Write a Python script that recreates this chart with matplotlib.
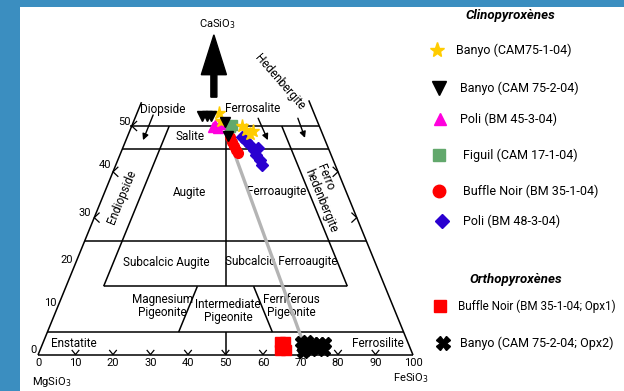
import matplotlib
matplotlib.use("Agg")
import matplotlib.pyplot as plt
from matplotlib.patches import Rectangle
import numpy as np

plt.rcParams['font.family'] = ['Roboto', 'DejaVu Sans']

# Clinopyroxene analyses: Wo and Fs in mol % (En = 100 - Wo - Fs)
banyo1_wo = [52.8, 51.1, 50.0, 49.1, 48.3, 48.9]
banyo1_fs = [21.9, 23.3, 29.4, 30.9, 32.4, 32.9]
banyo2_wo = [52.2, 52.2, 52.2, 50.9, 47.8]
banyo2_fs = [17.6, 19.0, 20.0, 24.4, 26.8]
poli45_wo = [50.2, 49.6, 50.4, 49.8]
poli45_fs = [22.1, 23.2, 23.3, 21.8]
figuil_wo = [49.8, 50.2]
figuil_fs = [26.3, 26.6]
buffle_wo = [47.6, 46.5, 45.6, 44.8, 44.1]
buffle_fs = [27.4, 28.5, 29.5, 30.4, 31.3]
poli48_wo = [47.6, 46.7, 45.9, 44.8, 43.7, 42.6, 41.5, 45.2]
poli48_fs = [30.6, 32.1, 33.6, 35.2, 36.3, 37.9, 39.0, 36.1]

# Orthopyroxene analyses
buffle_opx_wo = [2.8, 2.8, 1.1, 1.1, 2.0]
buffle_opx_fs = [63.1, 64.5, 64.0, 65.6, 64.3]
banyo_opx_wo = [2.8, 3.1, 2.6, 2.6, 2.6, 1.5, 1.1, 1.3, 1.1, 0.7]
banyo_opx_fs = [68.7, 70.2, 72.0, 73.6, 75.2, 70.2, 72.3, 74.0, 75.7, 70.3]

# Cpx-Opx tie line (Banyo CAM 75-2-04)
tie_wo = [47.8, 3.3]
tie_fs = [26.8, 68.8]

base_ticks = [0, 10, 20, 30, 40, 50, 60, 70, 80, 90, 100]
side_ticks = [0, 10, 20, 30, 40, 50]


def proj(wo, fs):
    """Ternary Wo-En-Fs to quadrilateral x/y (x = Fs + Wo/2, y = Wo)."""
    wo = np.asarray(wo, float)
    fs = np.asarray(fs, float)
    return fs + wo / 2.0, wo


fig = plt.figure(figsize=(6.24, 3.91), dpi=100)
fig.patch.set_facecolor('white')

# background axes in pixel units for frame and legend
lax = fig.add_axes([0, 0, 1, 1], zorder=0)
lax.set_xlim(0, 624)
lax.set_ylim(391, 0)
lax.axis('off')
slide_blue = '#3b8ec0'
lax.add_patch(Rectangle((0, 0), 20, 391, color=slide_blue, lw=0))
lax.add_patch(Rectangle((0, 0), 624, 7, color=slide_blue, lw=0))

ax = fig.add_axes([38 / 624, 36 / 391, 375 / 624, 229 / 391], zorder=1)
ax.set_xlim(0, 100)
ax.set_ylim(0, 50)
ax.axis('off')

LW = 1.1
K = 'black'


def seg(wo1, fs1, wo2, fs2, **kw):
    x, y = proj([wo1, wo2], [fs1, fs2])
    ax.plot(x, y, color=K, lw=kw.pop('lw', LW), clip_on=False,
            solid_capstyle='butt', **kw)


def iso_wo(wo, fs_lo, fs_hi):
    seg(wo, fs_lo, wo, fs_hi)


# outer quadrilateral, with the sides extended above Wo 50
seg(0, 0, 0, 100)
seg(0, 0, 55.2, 0)
seg(0, 100, 55.6, 100 - 55.6)
iso_wo(50, -0.6, 50)
iso_wo(45, 0, 55)
iso_wo(25, 0, 75)
iso_wo(15, 10, 75)
iso_wo(5, 0, 95)

# Fs = 10 and En = 10 boundaries
seg(50, 10, 15, 10)
seg(50, 40, 15, 75)
# Mg/Fe = 1 divide
seg(50, 25, 15, 42.5)
seg(5, 47.5, 0, 50)
# pigeonite subdivisions
seg(15, 35, 5, 35)
seg(15, 50, 5, 60)

# base ticks
for t in base_ticks[1:-1]:
    ax.plot([t - 0.9, t, t + 0.9], [1.0, 0.1, 1.0], color=K, lw=0.9, clip_on=False)
# side ticks
for w in [30, 40, 50]:
    x0 = w / 2.0
    ax.plot([x0 + 1.3, x0, x0 + 1.3], [w + 1.0, w, w - 1.0], color=K, lw=0.9, clip_on=False)
for w in [30, 40]:
    x0 = 100 - w / 2.0
    ax.plot([x0 - 1.3, x0, x0 - 1.3], [w + 1.0, w, w - 1.0], color=K, lw=0.9, clip_on=False)

# axis numbers
tick_kw = dict(fontsize=8, ha='center', va='center', clip_on=False)
for t in base_ticks:
    ax.text(t, -1.8, str(t), **tick_kw)
side_pos = {0: (-1.3, 1.1), 10: (3.2, 11.4), 20: (7.7, 20.7),
            30: (12.5, 31.0), 40: (17.9, 41.5), 50: (23.0, 50.9)}
for w in side_ticks:
    x, y = side_pos[w]
    ax.text(x, y, str(w), **tick_kw)
ax.text(3.7, -5.9, 'MgSiO$_3$', fontsize=8, ha='center', va='center')
ax.text(99.5, -5.0, 'FeSiO$_3$', fontsize=8, ha='center', va='center')
ax.text(47.8, 72.3, 'CaSiO$_3$', fontsize=8, ha='center', va='center')

# apex arrow toward CaSiO3
ax.arrow(46.9, 56.3, 0, 13.6, width=1.6, head_width=6.7, head_length=8.7,
         length_includes_head=True, fc=K, ec=K, clip_on=False)

# field names
lab = dict(fontsize=8.5, ha='center', va='center', clip_on=False)
ax.text(33.3, 53.5, 'Diopside', **lab)
ax.text(57.3, 53.9, 'Ferrosalite', **lab)
ax.text(40.4, 47.8, 'Salite', **lab)
ax.text(40.3, 35.4, 'Augite', **lab)
ax.text(63.5, 35.6, 'Ferroaugite', **lab)
ax.text(34.1, 20.1, 'Subcalcic Augite', **lab)
ax.text(64.8, 20.5, 'Subcalcic Ferroaugite', **lab)
ax.text(33.1, 10.7, 'Magnesium\nPigeonite', linespacing=1.05, **lab)
ax.text(50.7, 9.6, 'Intermediate\nPigeonite', linespacing=1.05, **lab)
ax.text(67.5, 10.7, 'Ferriferous\nPigeonite', linespacing=1.05, **lab)
ax.text(9.6, 2.6, 'Enstatite', **lab)
ax.text(90.6, 2.6, 'Ferrosilite', **lab)
ax.text(22.4, 34.5, 'Endiopside', rotation=67.7, rotation_mode='anchor', **lab)
ax.text(77.1, 34.3, 'Ferro\nhedenbergite', rotation=-67.7, rotation_mode='anchor',
        multialignment='left', linespacing=1.0, **lab)
ax.text(64.5, 59.6, 'Hedenbergite', rotation=-49, rotation_mode='anchor', **lab)

# pointer arrows from the end-member names
arr = dict(arrowstyle='-|>', color=K, lw=1.0, mutation_scale=9, shrinkA=0, shrinkB=0)
ax.annotate('', xy=(28.0, 46.9), xytext=(30.7, 52.4), arrowprops=arr, annotation_clip=False)
ax.annotate('', xy=(61.3, 46.9), xytext=(58.7, 51.7), arrowprops=arr, annotation_clip=False)
ax.annotate('', xy=(71.2, 47.4), xytext=(69.3, 51.7), arrowprops=arr, annotation_clip=False)

# tie line
tx, ty = proj(tie_wo, tie_fs)
ax.plot(tx, ty, color='#b4b4b4', lw=2.4, clip_on=False, zorder=3)

# data points
series = [
    (poli48_wo, poli48_fs, 'D', '#2a00d0', 6.5),
    (buffle_wo, buffle_fs, 'o', '#ff0000', 7.0),
    (figuil_wo, figuil_fs, 's', '#62a86c', 6.5),
    (poli45_wo, poli45_fs, '^', '#ff00dd', 7.0),
    (banyo1_wo, banyo1_fs, '*', '#ffcc00', 9.5),
    (banyo2_wo, banyo2_fs, 'v', '#000000', 7.0),
    (buffle_opx_wo, buffle_opx_fs, 's', '#ff0000', 7.0),
    (banyo_opx_wo, banyo_opx_fs, 'X', '#000000', 8.0),
]
for wo, fs, mk, col, ms in series:
    x, y = proj(wo, fs)
    ax.plot(x, y, ls='none', marker=mk, color=col, ms=ms, mec=col,
            clip_on=False, zorder=4)

# legend (pixel units)
lax.text(510, 16, 'Clinopyroxènes', fontsize=9.5, fontweight='bold', style='italic',
         ha='center', va='center')
lax.text(516, 279, 'Orthopyroxènes', fontsize=9.5, fontweight='bold', style='italic',
         ha='center', va='center')
legend_rows = [
    (437, 50, '*', '#ffcc00', 11, 456, 'Banyo (CAM75-1-04)', 9),
    (439, 88, 'v', '#000000', 9.5, 460, 'Banyo (CAM 75-2-04)', 9),
    (440, 119, '^', '#ff00dd', 9, 460, 'Poli (BM 45-3-04)', 9),
    (439, 155, 's', '#62a86c', 8, 463, 'Figuil (CAM 17-1-04)', 9),
    (439, 191, 'o', '#ff0000', 9, 463, 'Buffle Noir (BM 35-1-04)', 9),
    (442, 221, 'D', '#2a00d0', 7.5, 463, 'Poli (BM 48-3-04)', 9),
    (440, 306, 's', '#ff0000', 8, 458, 'Buffle Noir (BM 35-1-04; Opx1)', 8.4),
    (443, 343, 'X', '#000000', 10, 460, 'Banyo (CAM 75-2-04; Opx2)', 9),
]
for mx, my, mk, col, ms, tx0, txt, fsz in legend_rows:
    lax.plot([mx], [my], marker=mk, color=col, mec=col, ms=ms, ls='none')
    lax.text(tx0, my, txt, fontsize=fsz, ha='left', va='center')

fig.savefig('out.png', dpi=100)
